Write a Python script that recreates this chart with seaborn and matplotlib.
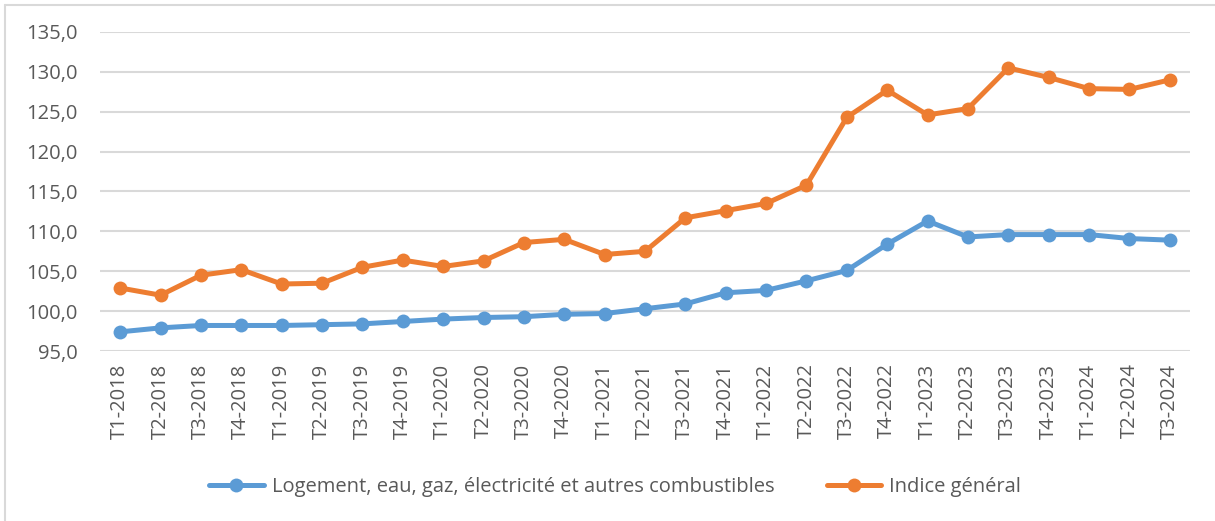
import matplotlib
matplotlib.use("Agg")
import matplotlib.pyplot as plt
from matplotlib.lines import Line2D
import seaborn as sns
import pandas as pd

# Data
quarters = [
    "T1-2018", "T2-2018", "T3-2018", "T4-2018",
    "T1-2019", "T2-2019", "T3-2019", "T4-2019",
    "T1-2020", "T2-2020", "T3-2020", "T4-2020",
    "T1-2021", "T2-2021", "T3-2021", "T4-2021",
    "T1-2022", "T2-2022", "T3-2022", "T4-2022",
    "T1-2023", "T2-2023", "T3-2023", "T4-2023",
    "T1-2024", "T2-2024", "T3-2024",
]
logement = [
    97.4, 97.9, 98.2, 98.2,
    98.2, 98.3, 98.4, 98.7,
    99.0, 99.2, 99.3, 99.6,
    99.7, 100.3, 100.9, 102.3,
    102.6, 103.8, 105.1, 108.4,
    111.3, 109.3, 109.6, 109.6,
    109.6, 109.1, 108.9,
]
indice_general = [
    102.9, 102.0, 104.5, 105.2,
    103.4, 103.5, 105.5, 106.4,
    105.6, 106.3, 108.6, 109.0,
    107.1, 107.5, 111.7, 112.6,
    113.5, 115.8, 124.3, 127.7,
    124.6, 125.4, 130.5, 129.3,
    127.9, 127.8, 129.0,
]
series_names = ["Logement, eau, gaz, électricité et autres combustibles", "Indice général"]
series_colors = ["#5B9BD5", "#ED7D31"]
y_ticks = [95, 100, 105, 110, 115, 120, 125, 130, 135]

df = pd.DataFrame({
    "pos": list(range(len(quarters))) * 2,
    "valeur": logement + indice_general,
    "serie": [series_names[0]] * len(quarters) + [series_names[1]] * len(quarters),
})

sns.set_style("white")
plt.rcParams["font.family"] = ["Open Sans", "DejaVu Sans"]

fig = plt.figure(figsize=(12.15, 5.21), dpi=100)
ax = fig.add_axes([100 / 1215, 1 - 351 / 521, 1090 / 1215, 319 / 521])

sns.lineplot(data=df, x="pos", y="valeur", hue="serie", hue_order=series_names,
             palette=series_colors, marker="o", markersize=10, markeredgewidth=0,
             linewidth=3.6, ax=ax, legend=False)

ax.set_xlim(-0.5, len(quarters) - 0.5)
ax.set_ylim(95, 135)
ax.set_yticks(y_ticks)
ax.set_yticklabels([f"{v:.1f}".replace(".", ",") for v in y_ticks], fontsize=14.5, color="#595959")
ax.set_xticks(range(len(quarters)))
ax.set_xticklabels(quarters, rotation=90, fontsize=14.5, color="#595959")
ax.tick_params(axis="x", length=0, pad=9)
ax.tick_params(axis="y", length=0, pad=16)
ax.grid(axis="y", color="#D9D9D9", linewidth=1.5)
ax.set_axisbelow(True)
for s in ax.spines.values():
    s.set_visible(False)
ax.set_xlabel("")
ax.set_ylabel("")

handles = [Line2D([0], [0], color=c, linewidth=3.6, marker="o", markersize=10, markeredgewidth=0)
           for c in series_colors]
fig.legend(handles, series_names, loc="center", bbox_to_anchor=(615 / 1215, 1 - 487 / 521),
           ncol=2, frameon=False, fontsize=14.5, handlelength=2.7, columnspacing=2.6,
           handletextpad=0.4, labelcolor="#595959")

# light frame on the left and top edges, as in the source image
fig.add_artist(Line2D([5 / 1215, 5 / 1215], [0, 1 - 5 / 521], color="#D9D9D9", linewidth=1.5,
                      transform=fig.transFigure))
fig.add_artist(Line2D([5 / 1215, 1], [1 - 5 / 521, 1 - 5 / 521], color="#D9D9D9", linewidth=1.5,
                      transform=fig.transFigure))

fig.savefig("out.png", dpi=100)
